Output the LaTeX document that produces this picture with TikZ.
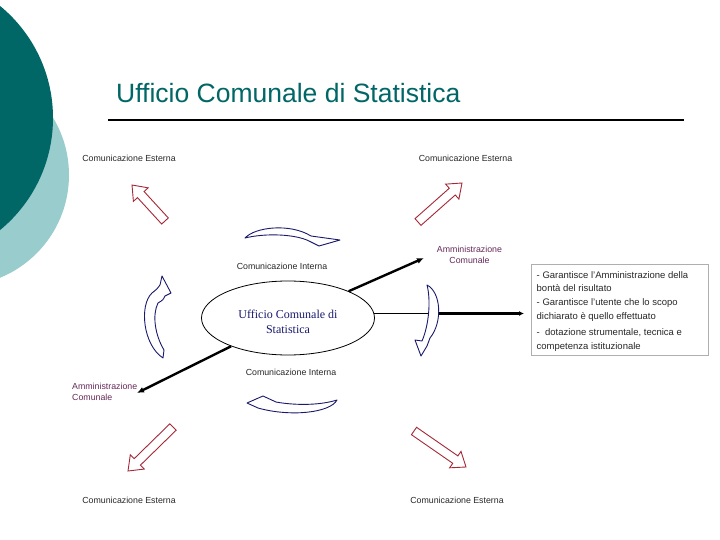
\documentclass[tikz,border=0pt]{standalone}
\usepackage{fontspec}
\setmainfont{Liberation Sans}
\newfontfamily\serifu{Liberation Serif}
\usetikzlibrary{calc,shapes.geometric,arrows.meta}
\definecolor{tealdark}{RGB}{0,102,102}
\definecolor{teallight}{RGB}{153,204,204}
\definecolor{arrred}{RGB}{165,40,55}
\definecolor{navy}{RGB}{25,25,110}
\definecolor{purp}{RGB}{102,40,90}
\definecolor{boxgray}{RGB}{175,175,175}
\definecolor{txtgray}{RGB}{40,40,40}
\tikzset{
  redarr/.style={draw=arrred, line width=0.9pt, fill=white, line join=miter},
  bluearr/.style={draw=navy, line width=0.9pt, fill=white, line join=round},
  lbl/.style={inner sep=0pt, font=\fontsize{8.8}{11}\selectfont, text=txtgray},
  purplbl/.style={inner sep=0pt, font=\fontsize{8.8}{11}\selectfont, text=purp},
  boxtxt/.style={inner sep=0pt, anchor=west, align=left, font=\fontsize{9.5}{13.6}\selectfont, text=txtgray},
  thickln/.style={line width=2.4pt, -{Latex[length=7pt,width=6pt]}},
}
\newcommand\blockarr[2]{%
  \coordinate (#1h) at ($(#2)!13pt!(#1)$);
  \draw[redarr] ($(#1)!4.5pt!90:(#2)$) -- ($(#1h)!4.5pt!90:(#2)$) -- ($(#1h)!10pt!90:(#2)$)
     -- (#2) -- ($(#1h)!10pt!-90:(#2)$) -- ($(#1h)!4.5pt!-90:(#2)$) -- ($(#1)!4.5pt!-90:(#2)$) -- cycle;}
\begin{document}
\begin{tikzpicture}[x=1pt,y=-1pt]
\useasboundingbox (0,0) rectangle (720,540);
\fill[white] (0,0) rectangle (720,540);
% decorative circles
\begin{scope}
\clip (0,0) rectangle (720,540);
\fill[teallight] (-42,175) circle[radius=111];
\fill[tealdark] (-92,118) circle[radius=145];
\end{scope}
% title
\node[anchor=base west, inner sep=0pt, font=\fontsize{26.5}{30}\selectfont, text=tealdark] (title) at (116,103) {Ufficio Comunale di Statistica};
\coordinate (ul1) at (108,120);
\coordinate (ul2) at (684,120);
\draw[line width=1.8pt] (ul1) -- (ul2);
% labels
\node[lbl] (ce1) at (129,158) {Comunicazione Esterna};
\node[lbl] (ce2) at (465.5,158) {Comunicazione Esterna};
\node[lbl] (ce3) at (129,500) {Comunicazione Esterna};
\node[lbl] (ce4) at (457,500) {Comunicazione Esterna};
\node[lbl] (ci1) at (282,266) {Comunicazione Interna};
\node[lbl] (ci2) at (291,372) {Comunicazione Interna};
\node[purplbl, align=center] (am1) at (469.5,254.5) {Amministrazione\\Comunale};
\node[purplbl, align=left, anchor=west] (am2) at (72,392) {Amministrazione\\Comunale};
% red block arrows
\coordinate (tlT) at (165,221); \coordinate (tlP) at (132,185);
\coordinate (trT) at (418,222); \coordinate (trP) at (462,183);
\coordinate (blT) at (173,427); \coordinate (blP) at (128,471);
\coordinate (brT) at (414,431); \coordinate (brP) at (466,467);
\blockarr{tlT}{tlP}
\blockarr{trT}{trP}
\blockarr{blT}{blP}
\blockarr{brT}{brP}
% blue curved arrows
\draw[bluearr] (245,238) .. controls (255,227) and (290,223) .. (311,236) -- (340,240) -- (319,246) -- (309,241) .. controls (295,234) and (265,233) .. (245,238) -- cycle;
\draw[bluearr] (247,403) -- (263,396) -- (276,402) .. controls (292,405) and (318,406) .. (337,400) .. controls (330,413) and (290,417) .. (258,408) -- cycle;
\draw[bluearr] (162,276) -- (171,293) -- (165,296) .. controls (163,300) .. (158,303) .. controls (152,315) and (155,335) .. (164,350) -- (163,358) .. controls (143,345) and (139,305) .. (152,293) .. controls (157,289) .. (160,285) -- cycle;
\draw[bluearr] (427,285) .. controls (441,292) and (443,322) .. (430,338) -- (427,346) -- (421,356) -- (415,340) -- (422,341) .. controls (429,325) and (431,300) .. (427,285) -- cycle;
% central ellipse
\node[ellipse, draw, line width=0.8pt, minimum width=173pt, minimum height=74pt, inner sep=0pt] (uff) at (288,318) {};
\node[inner sep=0pt, align=center, font=\serifu\fontsize{12}{15}\selectfont, text=navy] (ufft) at (288,322) {Ufficio Comunale di\\Statistica};
% connectors
\coordinate (a1tip) at (424,258);
\coordinate (a2tip) at (137,393);
\draw[thickln] (uff) -- (a1tip);
\draw[thickln] (uff) -- (a2tip);
\coordinate (hin) at (428,313.5);
\coordinate (hout) at (439,313.5);
\coordinate (hend) at (524,313.5);
\draw[line width=0.8pt] (uff.3) -- (uff.3 -| hin);
\draw[line width=2.4pt, -{Latex[length=5pt,width=5pt]}] (hout) -- (hend);
% box
\node[draw=boxgray, line width=1pt, minimum width=177pt, minimum height=91pt, anchor=north west, inner sep=0pt] (box) at (531,264) {};
\node[boxtxt] (b1) at (536.5,281.7) {- Garantisce l'Amministrazione della\\bontà del risultato};
\node[boxtxt] (b2) at (536.5,310) {- Garantisce l'utente che lo scopo\\dichiarato è quello effettuato};
\node[boxtxt] (b3) at (536.5,340.3) {-\ \ dotazione strumentale, tecnica e\\competenza istituzionale};
\end{tikzpicture}
\end{document}
